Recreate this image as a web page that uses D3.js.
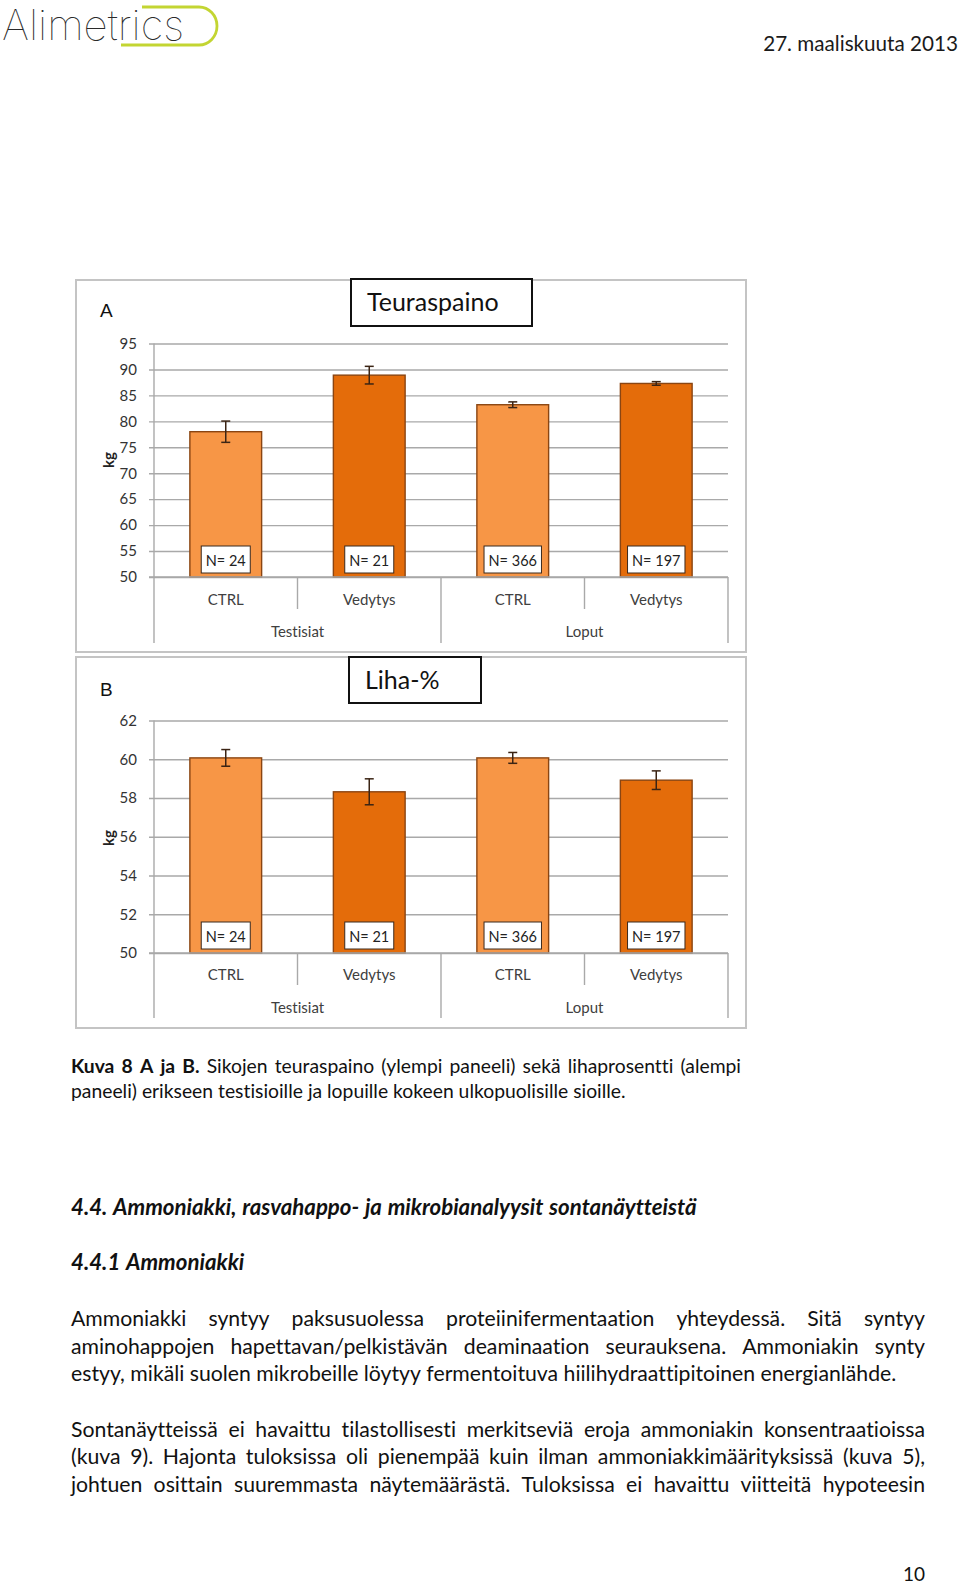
<!DOCTYPE html>
<html><head><meta charset="utf-8">
<script src="https://cdn.jsdelivr.net/npm/d3@7"></script>
<style>body{margin:0;background:#fff}svg{display:block}
text{font-variant-ligatures:none;font-feature-settings:"liga" 0,"clig" 0,"dlig" 0;}</style>
</head><body>
<script>
// ---------- data ----------
const categories = ["CTRL", "Vedytys", "CTRL", "Vedytys"];
const groups = ["Testisiat", "Loput"];
const nLabels = ["N= 24", "N= 21", "N= 366", "N= 197"];
const teuraspaino = [78.0, 88.9, 83.2, 87.3];
const teuraspainoErr = [2.05, 1.7, 0.55, 0.35];
const lihaPct = [60.07, 58.32, 60.07, 58.92];
const lihaErr = [0.43, 0.67, 0.28, 0.48];
const ticksA = [50, 55, 60, 65, 70, 75, 80, 85, 90, 95];
const ticksB = [50, 52, 54, 56, 58, 60, 62];
const barColors = ["#F79646", "#E46C0A", "#F79646", "#E46C0A"];

const W = 960, H = 1585;
const FAM = "Lato, 'Open Sans', sans-serif";
const svg = d3.select("body").append("svg").attr("width", W).attr("height", H);
svg.append("rect").attr("width", W).attr("height", H).attr("fill", "#fff");

function fitWidth(sel, target) {
  const fs = +sel.attr("font-size");
  const w = sel.node().getComputedTextLength();
  sel.attr("font-size", fs * target / w);
}

// ---------- header ----------
const logo = svg.append("g");
logo.append("path")
  .attr("d", "M121,45 L199,45 A18,19 0 0 0 199,7 L142,7")
  .attr("fill", "none").attr("stroke", "#c3d532").attr("stroke-width", 2.8);
const logoText = logo.append("text").attr("x", 2).attr("y", 40)
  .attr("font-family", "Inter, Lato, sans-serif").attr("font-weight", 100)
  .attr("font-size", 44).attr("fill", "#2a2a2a").text("Alimetrics");
fitWidth(logoText, 182);

const dateT = svg.append("text").attr("x", 958).attr("y", 51).attr("text-anchor", "end")
  .attr("font-family", FAM).attr("font-size", 20).attr("fill", "#1a1a1a")
  .text("27. maaliskuuta 2013");
fitWidth(dateT, 195);

// ---------- panels ----------
function drawPanel(cfg) {
  const g = svg.append("g");
  g.append("rect").attr("x", cfg.box[0]).attr("y", cfg.box[1])
    .attr("width", cfg.box[2]).attr("height", cfg.box[3])
    .attr("fill", "#fff").attr("stroke", "#c4c4c4").attr("stroke-width", 2);

  const x = d3.scaleBand().domain(d3.range(categories.length))
    .range([154, 728]).paddingInner(0.5).paddingOuter(0.25);
  const y = d3.scaleLinear().domain(cfg.domain).range([cfg.bottom, cfg.top]);

  const yAxis = d3.axisLeft(y).tickValues(cfg.ticks).tickSize(-(728 - 154)).tickPadding(12)
    .tickFormat(d3.format("d"));
  const ax = g.append("g").attr("transform", "translate(154,0)").call(yAxis);
  ax.select(".domain").remove();
  ax.selectAll(".tick line").attr("stroke", "#a9a9a9").attr("stroke-width", 1.4)
    .attr("x1", -5);
  ax.selectAll(".tick text").attr("font-family", FAM).attr("font-size", 15)
    .attr("fill", "#333").attr("x", -17);

  g.append("line").attr("x1", 154).attr("x2", 154).attr("y1", cfg.top).attr("y2", cfg.longBottom)
    .attr("stroke", "#a9a9a9").attr("stroke-width", 1.4);

  const step = x.step();
  const seps = [1, 2, 3, 4].map(i => ({ x: 154 + i * step, long: i % 2 === 0 }));
  g.selectAll(".sep").data(seps).join("line")
    .attr("x1", d => d.x).attr("x2", d => d.x)
    .attr("y1", cfg.bottom).attr("y2", d => d.long ? cfg.longBottom : cfg.shortBottom)
    .attr("stroke", "#a9a9a9").attr("stroke-width", 1.4);

  const vals = cfg.values, errs = cfg.errors;
  g.selectAll(".bar").data(vals).join("rect")
    .attr("x", (d, i) => x(i)).attr("width", x.bandwidth())
    .attr("y", d => y(d)).attr("height", d => cfg.bottom - y(d))
    .attr("fill", (d, i) => barColors[i]).attr("stroke", "#8a4512").attr("stroke-width", 1.4);

  g.append("line").attr("x1", 149).attr("x2", 728).attr("y1", cfg.bottom).attr("y2", cfg.bottom)
    .attr("stroke", "#a9a9a9").attr("stroke-width", 1.4);

  const cxOf = i => x(i) + x.bandwidth() / 2;
  const eb = g.selectAll(".eb").data(vals).join("g");
  eb.append("line").attr("x1", (d, i) => cxOf(i)).attr("x2", (d, i) => cxOf(i))
    .attr("y1", (d, i) => y(d + errs[i])).attr("y2", (d, i) => y(d - errs[i]));
  eb.append("line").attr("x1", (d, i) => cxOf(i) - 4.5).attr("x2", (d, i) => cxOf(i) + 4.5)
    .attr("y1", (d, i) => y(d + errs[i])).attr("y2", (d, i) => y(d + errs[i]));
  eb.append("line").attr("x1", (d, i) => cxOf(i) - 4.5).attr("x2", (d, i) => cxOf(i) + 4.5)
    .attr("y1", (d, i) => y(d - errs[i])).attr("y2", (d, i) => y(d - errs[i]));
  eb.selectAll("line").attr("stroke", "#3b2414").attr("stroke-width", 1.5);

  nLabels.forEach((lab, i) => {
    const cx = cxOf(i);
    const ng = g.append("g");
    const rect = ng.append("rect");
    const t = ng.append("text").attr("x", cx).attr("y", cfg.bottom - 11).attr("text-anchor", "middle")
      .attr("font-family", FAM).attr("font-size", 14.5).attr("fill", "#222").text(lab);
    const w = t.node().getComputedTextLength() + 9;
    rect.attr("x", cx - w / 2).attr("y", cfg.bottom - 31).attr("width", w).attr("height", 27)
      .attr("fill", "#fff").attr("stroke", "#3b2a1e").attr("stroke-width", 1);
  });

  g.selectAll(".cat").data(categories).join("text")
    .attr("x", (d, i) => cxOf(i)).attr("y", cfg.catBase)
    .attr("text-anchor", "middle").attr("font-family", FAM).attr("font-size", 15)
    .attr("fill", "#404040").text(d => d);
  g.selectAll(".grp").data(groups).join("text")
    .attr("x", (d, i) => 154 + step * (2 * i + 1)).attr("y", cfg.grpBase)
    .attr("text-anchor", "middle").attr("font-family", FAM).attr("font-size", 15)
    .attr("fill", "#404040").text(d => d);

  g.append("text").attr("transform", `translate(114,${cfg.kgY}) rotate(-90)`)
    .attr("text-anchor", "middle").attr("font-family", FAM).attr("font-weight", "bold")
    .attr("font-size", 15).attr("fill", "#222").text("kg");

  g.append("rect").attr("x", cfg.tbox[0]).attr("y", cfg.tbox[1]).attr("width", cfg.tbox[2]).attr("height", cfg.tbox[3])
    .attr("fill", "#fff").attr("stroke", "#111").attr("stroke-width", 2);
  g.append("text").attr("x", cfg.tbox[0] + 16).attr("y", cfg.titleBase)
    .attr("font-family", FAM).attr("font-size", 25).attr("fill", "#111").text(cfg.title);

  g.append("text").attr("x", 100).attr("y", cfg.letterBase)
    .attr("font-family", "'Liberation Sans', Arial, sans-serif").attr("font-size", 19)
    .attr("fill", "#111").text(cfg.letter);
}

drawPanel({
  box: [76, 280, 670, 372], domain: [50, 95], ticks: ticksA, top: 343.5, bottom: 577,
  shortBottom: 609, longBottom: 643, catBase: 605, grpBase: 637, kgY: 460,
  values: teuraspaino, errors: teuraspainoErr,
  tbox: [351, 279, 181, 47], title: "Teuraspaino", titleBase: 311, letter: "A", letterBase: 317
});
drawPanel({
  box: [76, 657, 670, 371], domain: [50, 62], ticks: ticksB, top: 720.5, bottom: 953,
  shortBottom: 985, longBottom: 1018, catBase: 980, grpBase: 1013, kgY: 838,
  values: lihaPct, errors: lihaErr,
  tbox: [349, 657, 132, 46], title: "Liha-%", titleBase: 689, letter: "B", letterBase: 696
});

// ---------- body text ----------
function measure(str, size, weight, style) {
  const t = svg.append("text").attr("font-family", FAM).attr("font-size", size)
    .attr("font-weight", weight || "normal").attr("font-style", style || "normal").text(str);
  const w = t.node().getComputedTextLength();
  t.remove();
  return w;
}
function toWords(str, weight, style) {
  return str.split(" ").map(t => ({ t, weight, style }));
}
function naturalWidth(words, size) {
  const sp = measure("a a", size) - measure("aa", size);
  return d3.sum(words, w => measure(w.t, size, w.weight, w.style)) + sp * (words.length - 1);
}
function fitSize(words, target) {
  return 100 * target / naturalWidth(words, 100);
}
function drawLine(words, baseline, x0, x1, size, justify) {
  const sp = measure("a a", size) - measure("aa", size);
  const ws = words.map(w => measure(w.t, size, w.weight, w.style));
  let gap = sp;
  if (justify && words.length > 1) gap = (x1 - x0 - d3.sum(ws)) / (words.length - 1);
  let xx = x0;
  words.forEach((w, i) => {
    svg.append("text").attr("x", xx).attr("y", baseline).attr("font-family", FAM)
      .attr("font-size", size).attr("font-weight", w.weight || "normal")
      .attr("font-style", w.style || "normal").attr("fill", "#111").text(w.t);
    xx += ws[i] + gap;
  });
}

const cap1 = toWords("Kuva 8 A ja B.", "bold").concat(toWords("Sikojen teuraspaino (ylempi paneeli) sekä lihaprosentti (alempi"));
const cap2 = toWords("paneeli) erikseen testisioille ja lopuille kokeen ulkopuolisille sioille.");
const capSize = fitSize(cap2, 555);
drawLine(cap1, 1073, 71, 741, capSize, true);
drawLine(cap2, 1098, 71, 626, capSize, false);

const h1 = toWords("4.4. Ammoniakki, rasvahappo- ja mikrobianalyysit sontanäytteistä", "bold", "italic");
const h2 = toWords("4.4.1 Ammoniakki", "bold", "italic");
const h1Size = fitSize(h1, 626);
drawLine(h1, 1215, 71, 697, h1Size, false);
drawLine(h2, 1270, 71, 241, h1Size, false);

const p1 = [
  "Ammoniakki syntyy paksusuolessa proteiinifermentaation yhteydessä. Sitä syntyy",
  "aminohappojen hapettavan/pelkistävän deaminaation seurauksena. Ammoniakin synty",
  "estyy, mikäli suolen mikrobeille löytyy fermentoituva hiilihydraattipitoinen energianlähde."
].map(s => toWords(s));
const p2 = [
  "Sontanäytteissä ei havaittu tilastollisesti merkitseviä eroja ammoniakin konsentraatioissa",
  "(kuva 9). Hajonta tuloksissa oli pienempää kuin ilman ammoniakkimäärityksissä (kuva 5),",
  "johtuen osittain suuremmasta näytemäärästä. Tuloksissa ei havaittu viitteitä hypoteesin"
].map(s => toWords(s));
const bodySize = fitSize(p1[2], 826);
drawLine(p1[0], 1326, 71, 925, bodySize, true);
drawLine(p1[1], 1353.5, 71, 925, bodySize, true);
drawLine(p1[2], 1381, 71, 897, bodySize, false);
drawLine(p2[0], 1436.5, 71, 925, bodySize, true);
drawLine(p2[1], 1464, 71, 925, bodySize, true);
drawLine(p2[2], 1491.5, 71, 925, bodySize, true);

svg.append("text").attr("x", 925).attr("y", 1581).attr("text-anchor", "end")
  .attr("font-family", FAM).attr("font-size", 19).attr("fill", "#111").text("10");
</script>
</body></html>
